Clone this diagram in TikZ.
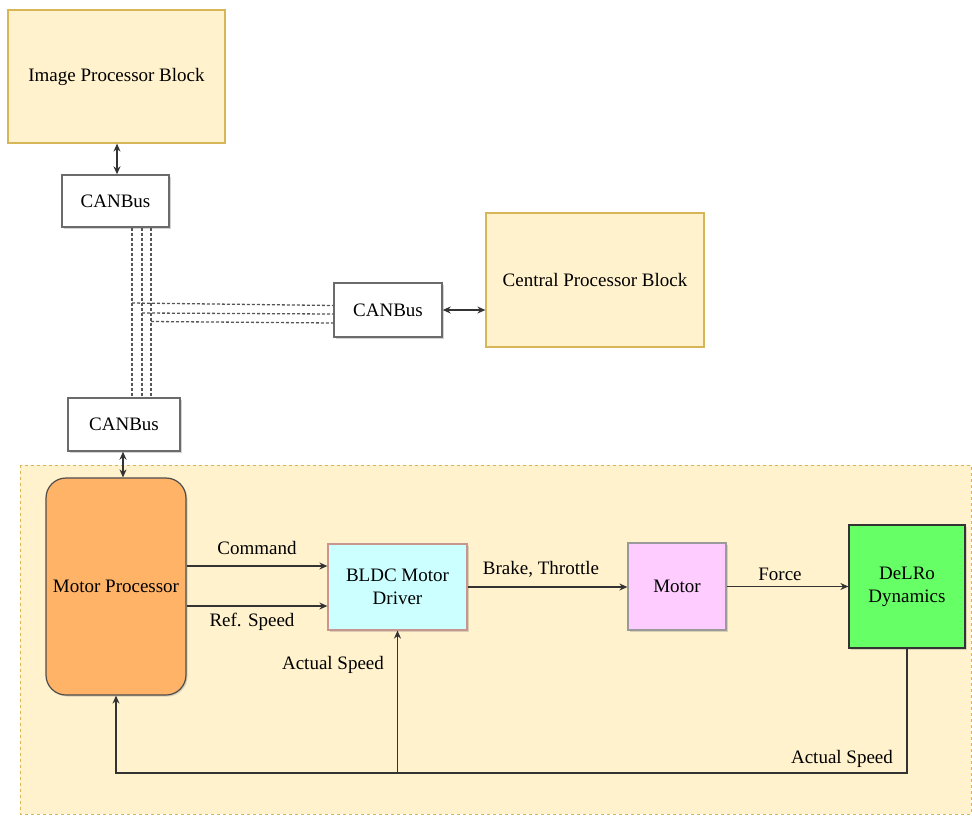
\documentclass[tikz,border=0pt]{standalone}
\usepackage{fontspec}
\setmainfont{Liberation Serif}
\newfontfamily\diagfont{Liberation Serif}
\usetikzlibrary{arrows.meta,calc,shadows}

\definecolor{blockfill}{HTML}{FFF2CC}
\definecolor{blockline}{HTML}{D6B656}
\definecolor{mpfill}{HTML}{FFB366}
\definecolor{mpline}{HTML}{4D4D4D}
\definecolor{drvfill}{HTML}{CCFFFF}
\definecolor{drvline}{HTML}{C9968F}
\definecolor{motfill}{HTML}{FFCCFF}
\definecolor{motline}{HTML}{9A9A9A}
\definecolor{dynfill}{HTML}{66FF66}
\definecolor{dynline}{HTML}{333333}
\definecolor{canline}{HTML}{6B6B6B}
\definecolor{wire}{HTML}{333333}
\definecolor{buswire}{HTML}{555555}

\tikzset{
  txt/.style={font=\diagfont\fontsize{19}{23}\selectfont, text=black, align=center, inner sep=0pt},
  box/.style={txt, draw, line width=1.2pt, minimum width=#1},
  yblock/.style={box=217pt, fill=blockfill, draw=blockline, minimum height=133pt},
  canbox/.style={box=#1, fill=white, draw=canline, line width=1.4pt,
                 drop shadow={shadow xshift=1.5pt, shadow yshift=-1.5pt, opacity=0.35}},
  soft/.style={drop shadow={shadow xshift=1.5pt, shadow yshift=-1.5pt, opacity=0.3}},
  arr/.style={draw=wire, line width=1.3pt, -{Stealth[length=8pt,width=7pt]}},
  dblarr/.style={draw=wire, line width=1.3pt, {Stealth[length=8pt,width=7pt]}-{Stealth[length=8pt,width=7pt]}},
  bus/.style={draw=buswire, line width=1.3pt, dash pattern=on 3pt off 2pt},
  lbl/.style={txt}
}

\begin{document}
\begin{tikzpicture}[x=1pt,y=-1pt]
  \useasboundingbox (0,0) rectangle (972,815);

  % motor control area
  \fill[blockfill] (20,465) rectangle (971,814);
  \draw[blockline, line width=1pt, dash pattern=on 3pt off 3pt] (20,465) rectangle (971,814);

  % processor blocks and bus interfaces
  \node[yblock] (img) at (116.5,76.5) {Image Processor Block};
  \node[yblock, minimum width=218pt, minimum height=134pt] (cpu) at (595,280) {Central Processor Block};
  \node[canbox=107pt, minimum height=52pt] (can1) at (115.5,201) {CANBus};
  \node[canbox=108pt, minimum height=54pt] (can2) at (388,310) {CANBus};
  \node[canbox=112pt, minimum height=53pt] (can3) at (124,424.5) {CANBus};

  % motor control chain
  \node[box=140pt, minimum height=217pt, rounded corners=20pt, fill=mpfill, draw=mpline, soft] (mp) at (116,586.5) {Motor Processor};
  \node[box=139pt, minimum height=86pt, fill=drvfill, draw=drvline, soft] (bldc) at (397.5,587) {BLDC Motor\\Driver};
  \node[box=98pt, minimum height=87pt, fill=motfill, draw=motline, soft] (motor) at (677,586.5) {Motor};
  \node[box=116pt, minimum height=123pt, fill=dynfill, draw=dynline, soft] (delro) at (907,586.5) {DeLRo\\Dynamics};

  % CAN bus wiring
  \draw[bus] (can1.south -| 132,0) -- (can3.north -| 132,0);
  \draw[bus] (can1.south -| 142,0) -- (can3.north -| 142,0);
  \draw[bus] (can1.south -| 151,0) -- (can3.north -| 151,0);
  \draw[bus] (132,303) -- (can2.west |- 0,305.5);
  \draw[bus] (142,313) -- (can2.west |- 0,314);
  \draw[bus] (151,321.5) -- (can2.west |- 0,323);

  % block to bus links
  \draw[dblarr] (img.south -| 117,0) -- (can1.north -| 117,0);
  \draw[dblarr] (can2.east) -- (can2.east -| cpu.west);
  \draw[dblarr] (can3.south -| 123,0) -- (mp.north -| 123,0);

  % forward signals
  \draw[arr] ($(mp.east)+(0,-20.5)$) coordinate (cmdA) -- (cmdA -| bldc.west);
  \draw[arr] ($(mp.east)+(0,19.5)$) coordinate (refA) -- (refA -| bldc.west);
  \draw[arr] (bldc.east) -- (bldc.east -| motor.west);
  \draw[arr] (motor.east) -- (motor.east -| delro.west);

  % speed feedback
  \coordinate (fbR) at (delro.south |- 0,773);
  \draw[arr] (delro.south) -- (fbR) -- (mp.south |- fbR) -- (mp.south);
  \draw[arr] (bldc.south |- fbR) -- (bldc.south);

  % signal labels
  \node[lbl] (lcmd) at (257,548) {Command};
  \node[lbl] (lref) at (252,622) {Ref. Speed};
  \node[lbl] (lbt) at (541,569) {Brake, Throttle};
  \node[lbl] (lforce) at (780,574) {Force};
  \node[lbl] (las1) at (333,665) {Actual Speed};
  \node[lbl] (las2) at (842,759) {Actual Speed};
\end{tikzpicture}
\end{document}
